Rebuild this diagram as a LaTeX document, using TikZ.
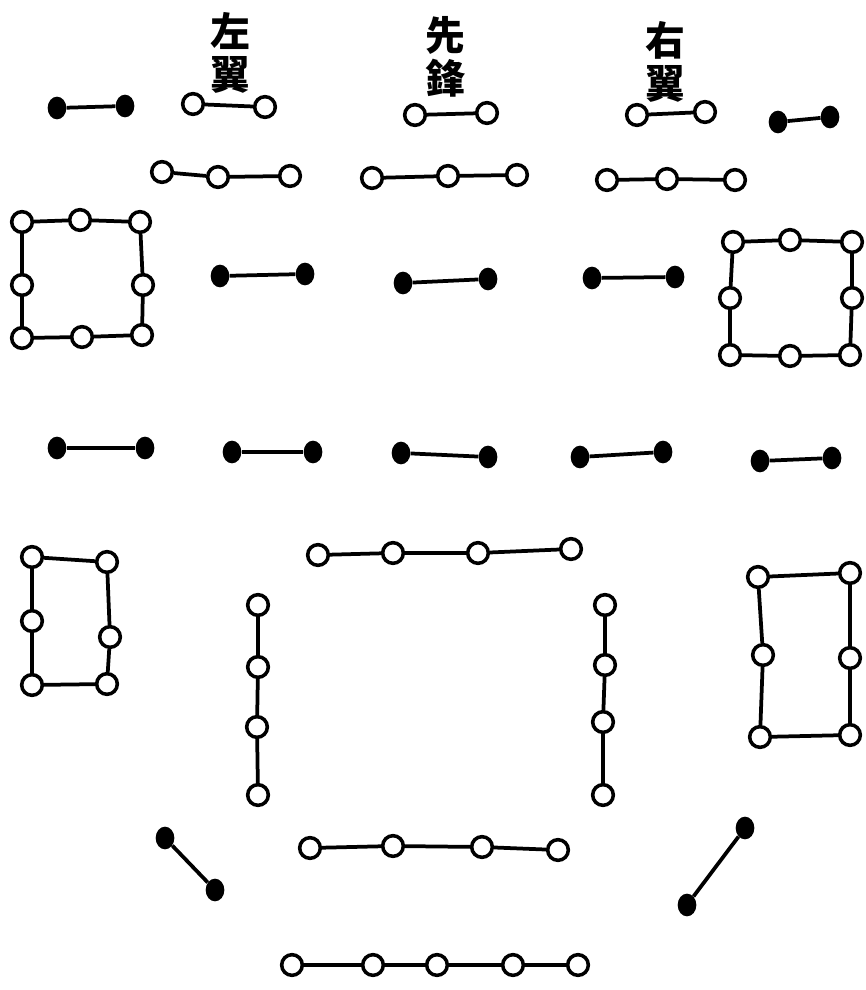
\documentclass[tikz,border=0pt]{standalone}
\usepackage{fontspec}
\newfontfamily\cjk{Noto Sans CJK TC}
\usetikzlibrary{positioning,shapes.geometric}

\begin{document}
\begin{tikzpicture}[x=0.03cm, y=-0.03cm,
  hollow/.style={circle, draw, line width=3pt, minimum size=6.2mm, inner sep=0pt},
  blackdot/.style={ellipse, fill, minimum width=5.6mm, minimum height=6.8mm, inner sep=0pt},
  link/.style={line width=3.2pt},
  banner/.style={font=\cjk\bfseries\fontsize{34}{37}\selectfont, align=center, inner sep=0pt}
]
\useasboundingbox (0,0) rectangle (865,990);
% labels over the front
\node[banner] (lw) at (230,53) {左\\翼};
\node[banner] (vg) at (445,57) {先\\鋒};
\node[banner] (rw) at (665,62) {右\\翼};
% front row
\node[blackdot] (a1) at (57,108) {}; \node[blackdot] (a2) at (125,106) {};
\draw[link] (a1) -- (a2);
\node[hollow] (b1) at (193,104) {}; \node[hollow] (b2) at (265,107) {};
\draw[link] (b1) -- (b2);
\node[hollow] (c1) at (415,115) {}; \node[hollow] (c2) at (487,113) {};
\draw[link] (c1) -- (c2);
\node[hollow] (d1) at (637,115) {}; \node[hollow] (d2) at (705,112) {};
\draw[link] (d1) -- (d2);
\node[blackdot] (e1) at (778,122) {}; \node[blackdot] (e2) at (830,117) {};
\draw[link] (e1) -- (e2);
% second row
\node[hollow] (f1) at (162,172) {}; \node[hollow] (f2) at (218,177) {}; \node[hollow] (f3) at (290,176) {};
\draw[link] (f1) -- (f2) -- (f3);
\node[hollow] (g1) at (372,178) {}; \node[hollow] (g2) at (448,176) {}; \node[hollow] (g3) at (517,175) {};
\draw[link] (g1) -- (g2) -- (g3);
\node[hollow] (h1) at (607,180) {}; \node[hollow] (h2) at (667,179) {}; \node[hollow] (h3) at (735,180) {};
\draw[link] (h1) -- (h2) -- (h3);
% left square
\node[hollow] (ls1) at (22,222) {}; \node[hollow] (ls2) at (80,220) {}; \node[hollow] (ls3) at (140,222) {};
\node[hollow] (ls4) at (143,285) {}; \node[hollow] (ls5) at (142,335) {}; \node[hollow] (ls6) at (82,337) {};
\node[hollow] (ls7) at (22,338) {}; \node[hollow] (ls8) at (22,285) {};
\draw[link] (ls1) -- (ls2) -- (ls3) -- (ls4) -- (ls5) -- (ls6) -- (ls7) -- (ls8) -- (ls1);
% right square
\node[hollow] (rs1) at (733,242) {}; \node[hollow] (rs2) at (790,240) {}; \node[hollow] (rs3) at (852,242) {};
\node[hollow] (rs4) at (852,298) {}; \node[hollow] (rs5) at (850,355) {}; \node[hollow] (rs6) at (790,356) {};
\node[hollow] (rs7) at (730,355) {}; \node[hollow] (rs8) at (730,298) {};
\draw[link] (rs1) -- (rs2) -- (rs3) -- (rs4) -- (rs5) -- (rs6) -- (rs7) -- (rs8) -- (rs1);
% third row
\node[blackdot] (i1) at (220,276) {}; \node[blackdot] (i2) at (305,274) {};
\draw[link] (i1) -- (i2);
\node[blackdot] (j1) at (403,283) {}; \node[blackdot] (j2) at (488,279) {};
\draw[link] (j1) -- (j2);
\node[blackdot] (k1) at (592,278) {}; \node[blackdot] (k2) at (675,277) {};
\draw[link] (k1) -- (k2);
% fourth row
\node[blackdot] (m1) at (57,448) {}; \node[blackdot] (m2) at (145,448) {};
\draw[link] (m1) -- (m2);
\node[blackdot] (n1) at (232,452) {}; \node[blackdot] (n2) at (313,452) {};
\draw[link] (n1) -- (n2);
\node[blackdot] (o1) at (401,453) {}; \node[blackdot] (o2) at (488,457) {};
\draw[link] (o1) -- (o2);
\node[blackdot] (p1) at (580,457) {}; \node[blackdot] (p2) at (663,452) {};
\draw[link] (p1) -- (p2);
\node[blackdot] (q1) at (760,461) {}; \node[blackdot] (q2) at (832,458) {};
\draw[link] (q1) -- (q2);
% left block
\node[hollow] (lb1) at (32,557) {}; \node[hollow] (lb2) at (107,562) {};
\node[hollow] (lb3) at (32,621) {}; \node[hollow] (lb4) at (110,637) {};
\node[hollow] (lb5) at (32,685) {}; \node[hollow] (lb6) at (107,684) {};
\draw[link] (lb1) -- (lb2) -- (lb4) -- (lb6) -- (lb5) -- (lb3) -- (lb1);
% right block
\node[hollow] (rb1) at (758,577) {}; \node[hollow] (rb2) at (850,573) {};
\node[hollow] (rb3) at (763,655) {}; \node[hollow] (rb4) at (850,658) {};
\node[hollow] (rb5) at (760,737) {}; \node[hollow] (rb6) at (850,735) {};
\draw[link] (rb1) -- (rb2) -- (rb4) -- (rb6) -- (rb5) -- (rb3) -- (rb1);
% centre
\node[hollow] (ct1) at (318,555) {}; \node[hollow] (ct2) at (393,553) {};
\node[hollow] (ct3) at (478,553) {}; \node[hollow] (ct4) at (571,549) {};
\draw[link] (ct1) -- (ct2) -- (ct3) -- (ct4);
\node[hollow] (cl1) at (258,605) {}; \node[hollow] (cl2) at (258,667) {};
\node[hollow] (cl3) at (257,727) {}; \node[hollow] (cl4) at (258,795) {};
\draw[link] (cl1) -- (cl2) -- (cl3) -- (cl4);
\node[hollow] (cr1) at (605,605) {}; \node[hollow] (cr2) at (605,665) {};
\node[hollow] (cr3) at (603,722) {}; \node[hollow] (cr4) at (603,795) {};
\draw[link] (cr1) -- (cr2) -- (cr3) -- (cr4);
\node[hollow] (cb1) at (310,848) {}; \node[hollow] (cb2) at (393,846) {};
\node[hollow] (cb3) at (482,847) {}; \node[hollow] (cb4) at (558,850) {};
\draw[link] (cb1) -- (cb2) -- (cb3) -- (cb4);
% rear
\node[blackdot] (s1) at (165,838) {}; \node[blackdot] (s2) at (215,890) {};
\draw[link] (s1) -- (s2);
\node[blackdot] (t1) at (745,828) {}; \node[blackdot] (t2) at (687,905) {};
\draw[link] (t1) -- (t2);
\node[hollow] (u1) at (292,965) {}; \node[hollow] (u2) at (373,965) {}; \node[hollow] (u3) at (437,965) {};
\node[hollow] (u4) at (513,965) {}; \node[hollow] (u5) at (578,965) {};
\draw[link] (u1) -- (u2) -- (u3) -- (u4) -- (u5);
\end{tikzpicture}
\end{document}
